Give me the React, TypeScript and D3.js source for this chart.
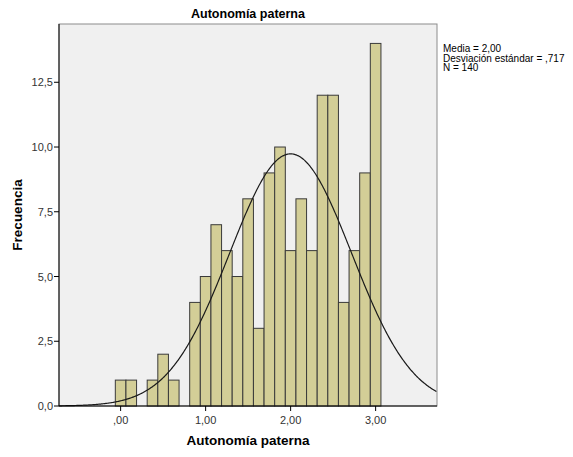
import React from "react";
import * as d3 from "d3";

const binCenters = [0, 0.125, 0.375, 0.5, 0.625, 0.875, 1.0, 1.125, 1.25, 1.375, 1.5, 1.625, 1.75, 1.875, 2.0, 2.125, 2.25, 2.375, 2.5, 2.625, 2.75, 2.875, 3.0];
const counts = [1, 1, 1, 2, 1, 4, 5, 7, 6, 5, 8, 3, 9, 10, 6, 8, 6, 12, 12, 4, 6, 9, 14];
const binWidth = 0.125;
const xTicks = [0, 1, 2, 3];
const xTickLabels = [",00", "1,00", "2,00", "3,00"];
const yTicks = [0, 2.5, 5, 7.5, 10, 12.5];
const yTickLabels = ["0,0", "2,5", "5,0", "7,5", "10,0", "12,5"];
const mean = 2.0;
const sd = 0.717;
const n = 140;
const statLines = ["Media = 2,00", "Desviación estándar = ,717", "N = 140"];

export default function App() {
  const W = 573, H = 457;
  const left = 59, right = 437, top = 24, bottom = 406;
  const x = d3.scaleLinear().domain([-0.725, 3.722]).range([left, right]);
  const y = d3.scaleLinear().domain([0, 14.75]).range([bottom, top]);
  const font = "'Liberation Sans', Arial, sans-serif";

  const curvePts = d3.range(-0.725, 3.7221, 0.01).map((v) => {
    const dens = Math.exp(-0.5 * ((v - mean) / sd) ** 2) / (sd * Math.sqrt(2 * Math.PI));
    return [v, dens * n * binWidth] as [number, number];
  });
  const line = d3.line<[number, number]>().x((d) => x(d[0])).y((d) => y(d[1])).curve(d3.curveBasis);

  return (
    <svg width={W} height={H} style={{ position: "absolute", left: 0, top: 0 }}>
      <rect x={0} y={0} width={W} height={H} fill="#ffffff" />
      <rect x={left} y={top} width={right - left} height={bottom - top} fill="#f0f0f0" stroke="#8c8c8c" strokeWidth={1} />
      {binCenters.map((c, i) => (
        <rect
          key={i}
          x={x(c - binWidth / 2)}
          y={y(counts[i])}
          width={x(c + binWidth / 2) - x(c - binWidth / 2)}
          height={y(0) - y(counts[i])}
          fill="#d3ce97"
          stroke="#3a3a3a"
          strokeWidth={1}
        />
      ))}
      <path d={line(curvePts) || ""} fill="none" stroke="#1a1a1a" strokeWidth={1.2} />
      <line x1={left} x2={left} y1={top} y2={bottom} stroke="#000" strokeWidth={1} />
      <line x1={left} x2={right} y1={bottom} y2={bottom} stroke="#000" strokeWidth={1} />
      {yTicks.map((t, i) => (
        <g key={i}>
          <line x1={left - 5} x2={left} y1={y(t)} y2={y(t)} stroke="#000" />
          <text x={left - 6} y={y(t) + 4} textAnchor="end" fontSize={11} fontFamily={font} fill="#333">
            {yTickLabels[i]}
          </text>
        </g>
      ))}
      {xTicks.map((t, i) => (
        <g key={i}>
          <line x1={x(t)} x2={x(t)} y1={bottom} y2={bottom + 5} stroke="#000" />
          <text x={x(t)} y={bottom + 18} textAnchor="middle" fontSize={11} fontFamily={font} fill="#333">
            {xTickLabels[i]}
          </text>
        </g>
      ))}
      <text x={(left + right) / 2} y={18} textAnchor="middle" fontSize={12.5} fontWeight="bold" fontFamily={font} fill="#000">
        Autonomía paterna
      </text>
      <text x={(left + right) / 2} y={445} textAnchor="middle" fontSize={13.5} fontWeight="bold" fontFamily={font} fill="#000">
        Autonomía paterna
      </text>
      <text transform={`translate(22, ${(top + bottom) / 2}) rotate(-90)`} textAnchor="middle" fontSize={13.5} fontWeight="bold" fontFamily={font} fill="#000">
        Frecuencia
      </text>
      {statLines.map((s, i) => (
        <text key={i} x={443} y={52 + i * 9.5} fontSize={10} fontFamily={font} fill="#000">
          {s}
        </text>
      ))}
    </svg>
  );
}
